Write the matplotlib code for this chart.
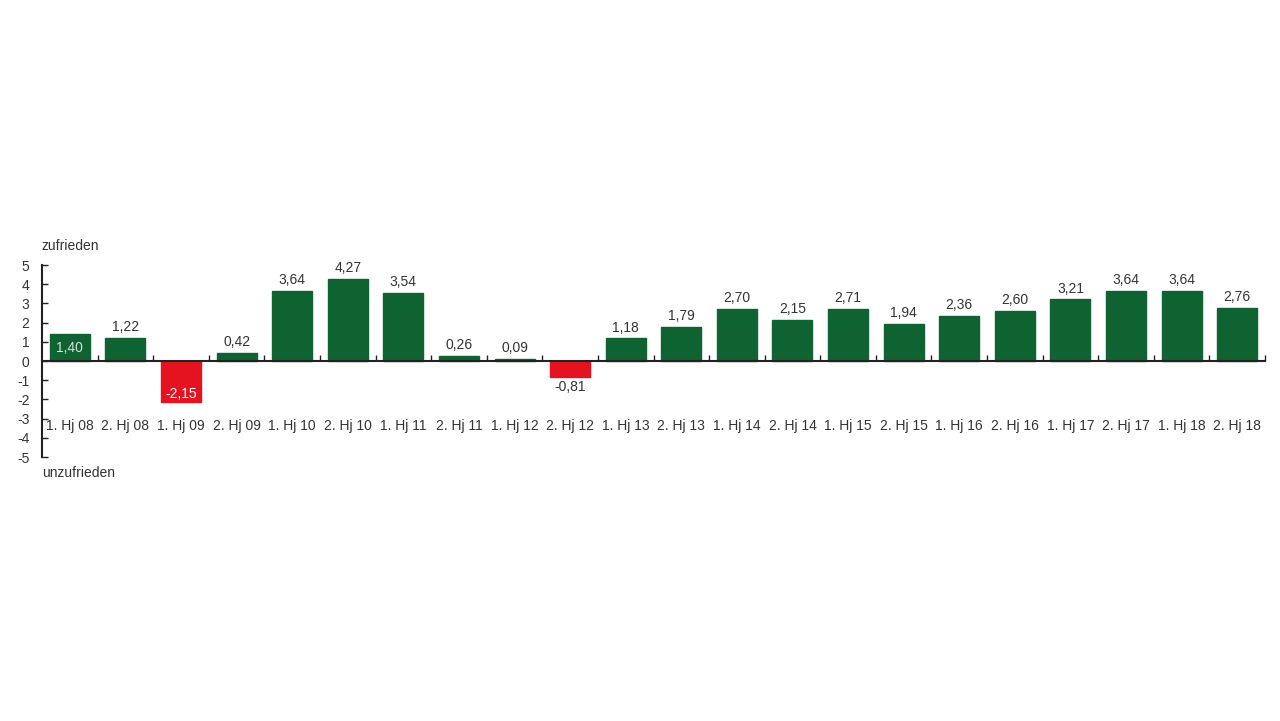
import matplotlib
matplotlib.use("Agg")
import matplotlib.pyplot as plt
import numpy as np

categories = ["1. Hj 08", "2. Hj 08", "1. Hj 09", "2. Hj 09", "1. Hj 10", "2. Hj 10",
              "1. Hj 11", "2. Hj 11", "1. Hj 12", "2. Hj 12", "1. Hj 13", "2. Hj 13",
              "1. Hj 14", "2. Hj 14", "1. Hj 15", "2. Hj 15", "1. Hj 16", "2. Hj 16",
              "1. Hj 17", "2. Hj 17", "1. Hj 18", "2. Hj 18"]
values = [1.40, 1.22, -2.15, 0.42, 3.64, 4.27, 3.54, 0.26, 0.09, -0.81, 1.18, 1.79,
          2.70, 2.15, 2.71, 1.94, 2.36, 2.60, 3.21, 3.64, 3.64, 2.76]
yticks = [5, 4, 3, 2, 1, 0, -1, -2, -3, -4, -5]

GREEN = "#0e6330"
RED = "#e5131f"
TXT = "#333333"

plt.rcParams['font.family'] = ['Liberation Sans', 'DejaVu Sans']

fig = plt.figure(figsize=(12.8, 7.21), dpi=100)
ax = fig.add_axes([42/1280, 1-457/721, (1265-42)/1280, (457-265)/721])

x = np.arange(len(values))
colors = [GREEN if v >= 0 else RED for v in values]
ax.bar(x, values, width=0.72, color=colors, edgecolor=colors, zorder=2)

ax.set_xlim(-0.5, len(values) - 0.5)
ax.set_ylim(-5, 5)

for s in ['top', 'right']:
    ax.spines[s].set_visible(False)
ax.spines['left'].set_color('#222222')
ax.spines['left'].set_linewidth(1.5)
ax.spines['bottom'].set_position(('data', 0))
ax.spines['bottom'].set_color('#222222')
ax.spines['bottom'].set_linewidth(1.5)
ax.spines['bottom'].set_zorder(3)

ax.set_yticks(yticks)
ax.set_yticklabels([str(t) for t in yticks], fontsize=10, color=TXT)
ax.tick_params(axis='y', direction='in', length=4, width=1, pad=9, colors='#222222', labelcolor=TXT)
ax.set_xticks(x[:-1] + 0.5)
ax.set_xticks([len(values) - 0.5], minor=True)
ax.set_xticklabels([])
ax.tick_params(axis='x', which='both', direction='in', length=4, width=1, colors='#222222')

for i, (v, c) in enumerate(zip(values, categories)):
    ax.text(i, -3.4, c, ha='center', va='center', fontsize=10, color=TXT)
    lab = f"{v:.2f}".replace('.', ',')
    if i == 0:
        ax.text(i, v / 2, lab, ha='center', va='center', fontsize=10, color='#dddddd')
    elif i == 2:
        ax.text(i, v + 0.45, lab, ha='center', va='center', fontsize=10, color='white')
    elif v < 0:
        ax.text(i, v - 0.2, lab, ha='center', va='top', fontsize=10, color=TXT)
    else:
        ax.text(i, v + 0.2, lab, ha='center', va='bottom', fontsize=10, color=TXT)

fig.text(42/1280, 1-246/721, "zufrieden", ha='left', va='center', fontsize=10, color=TXT)
fig.text(42/1280, 1-473/721, "unzufrieden", ha='left', va='center', fontsize=10, color=TXT)

fig.savefig("out.png", dpi=100)
